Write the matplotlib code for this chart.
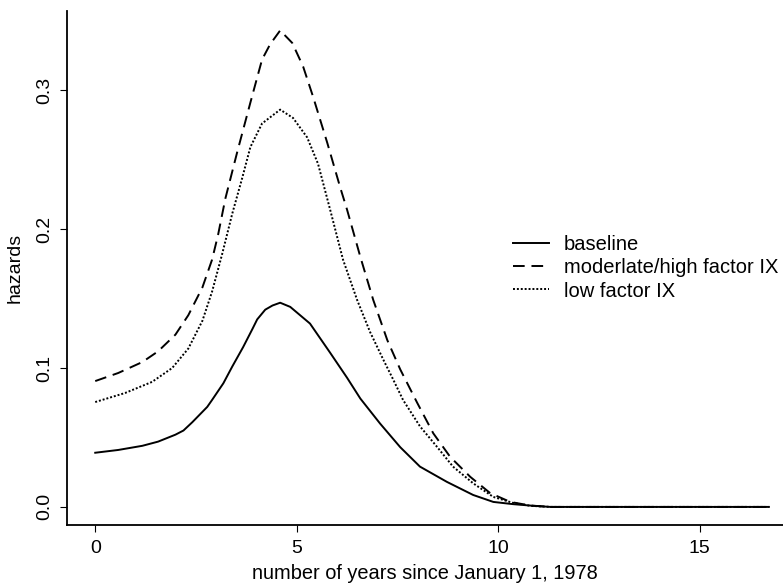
import matplotlib
matplotlib.use('Agg')
import matplotlib.pyplot as plt

plt.rcParams['font.family'] = ['Liberation Sans', 'DejaVu Sans']

# values
baseline_x = [0.0, 0.57, 1.17, 1.56, 1.99, 2.19, 2.41, 2.78, 2.90, 3.18, 3.40, 3.67, 3.90,
              4.02, 4.22, 4.40, 4.59, 4.84, 5.33, 5.83, 6.25, 6.58, 7.07, 7.57, 8.06, 8.73,
              9.38, 9.88, 10.37, 10.87, 11.3, 13.0, 15.0, 16.72]
baseline_y = [0.039, 0.041, 0.044, 0.047, 0.052, 0.055, 0.061, 0.072, 0.077, 0.089, 0.101,
              0.115, 0.128, 0.135, 0.142, 0.145, 0.147, 0.144, 0.132, 0.111, 0.093, 0.078,
              0.060, 0.043, 0.029, 0.018, 0.0086, 0.0036, 0.002, 0.0008, 0.0, 0.0, 0.0, 0.0]

modhigh_x = [0.0, 0.57, 1.17, 1.56, 1.99, 2.31, 2.66, 2.90, 3.05, 3.23, 3.52, 3.85, 4.14,
             4.34, 4.59, 4.89, 5.16, 5.41, 5.76, 6.08, 6.25, 6.58, 6.90, 7.25, 7.57, 7.99,
             8.39, 8.81, 9.31, 9.80, 10.30, 10.8, 11.3, 13.0, 15.0, 16.72]
modhigh_y = [0.0906, 0.0964, 0.1043, 0.112, 0.124, 0.138, 0.158, 0.178, 0.196, 0.222, 0.255,
             0.291, 0.322, 0.333, 0.343, 0.334, 0.317, 0.295, 0.262, 0.230, 0.214, 0.180,
             0.149, 0.120, 0.099, 0.075, 0.053, 0.036, 0.0216, 0.010, 0.0036, 0.001, 0.0,
             0.0, 0.0, 0.0]

low_x = [0.0, 0.74, 1.41, 1.91, 2.31, 2.66, 2.90, 3.15, 3.40, 3.65, 3.85, 4.14, 4.59, 4.91,
         5.26, 5.53, 5.83, 6.15, 6.50, 6.82, 7.15, 7.39, 7.64, 8.06, 8.49, 8.88, 9.38, 9.88,
         10.37, 10.8, 11.3, 13.0, 15.0, 16.72]
low_y = [0.0755, 0.082, 0.090, 0.100, 0.114, 0.134, 0.155, 0.182, 0.211, 0.237, 0.259, 0.276,
         0.286, 0.280, 0.266, 0.247, 0.214, 0.178, 0.149, 0.126, 0.106, 0.092, 0.077, 0.058,
         0.043, 0.029, 0.017, 0.0072, 0.0029, 0.0008, 0.0, 0.0, 0.0, 0.0]

series_labels = ['baseline', 'moderlate/high factor IX', 'low factor IX']
x_ticks = [0, 5, 10, 15]
y_ticks = [0.0, 0.1, 0.2, 0.3]

fig = plt.figure(figsize=(7.83, 5.85), dpi=100)
ax = fig.add_axes([0.0856, 0.1026, 0.9144, 0.8786])

ax.plot(baseline_x, baseline_y, color='black', lw=1.4, ls='-', label=series_labels[0])
ax.plot(modhigh_x, modhigh_y, color='black', lw=1.4, ls=(0, (6, 3.5)), label=series_labels[1])
ax.plot(low_x, low_y, color='black', lw=1.4, ls=(0, (1, 1)), label=series_labels[2])

ax.set_xlim(-0.7, 17.07)
ax.set_ylim(-0.013, 0.357)
ax.set_xticks(x_ticks)
ax.set_xticklabels([str(t) for t in x_ticks])
ax.set_yticks(y_ticks)
ax.set_yticklabels(['%.1f' % t for t in y_ticks], rotation=90, va='center')
ax.tick_params(direction='out', length=5, width=0.8, labelsize=14)
ax.tick_params(axis='x', pad=6)
ax.tick_params(axis='y', pad=5)

for s in ['top', 'right']:
    ax.spines[s].set_visible(False)
for s in ['left', 'bottom']:
    ax.spines[s].set_linewidth(1.3)

ax.set_xlabel('number of years since January 1, 1978', fontsize=14.4, labelpad=5)
ax.set_ylabel('hazards', fontsize=14, labelpad=9)

ax.legend(loc='center left', bbox_to_anchor=(0.598, 0.5), frameon=False, fontsize=14.5,
          handlelength=1.75, handletextpad=0.75, labelspacing=0.2)

fig.savefig('out.png', dpi=100)
